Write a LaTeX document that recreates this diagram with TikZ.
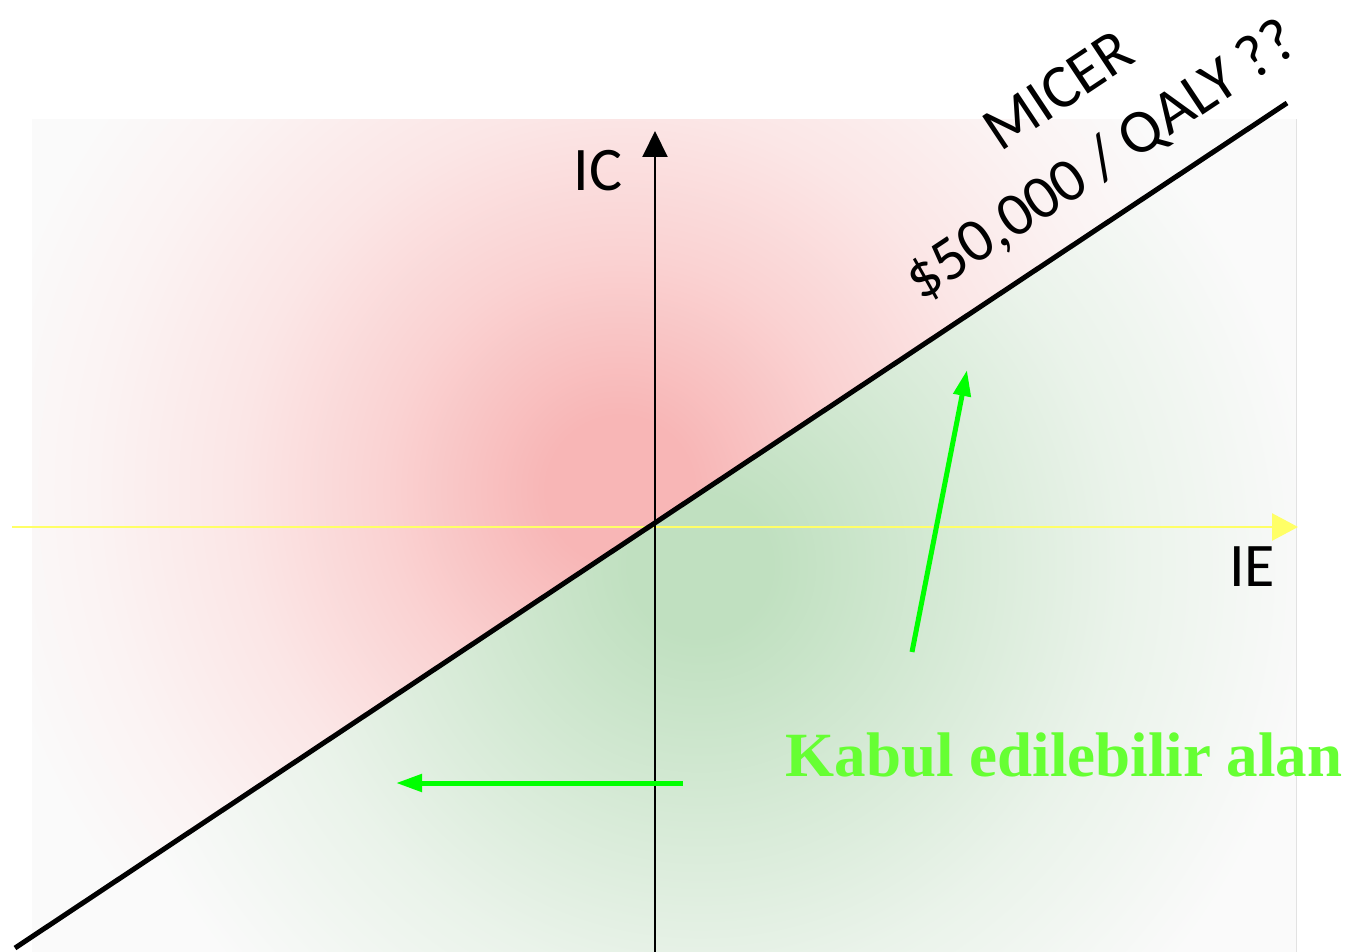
\documentclass[tikz,border=0pt]{standalone}
\usepackage{fontspec}
\setmainfont{Liberation Serif}
\newfontfamily\calib{Carlito}
\usetikzlibrary{arrows.meta}
\definecolor{bgc}{RGB}{250,250,250}
\definecolor{rc0}{RGB}{248,182,182}
\definecolor{rc1}{RGB}{250,210,210}
\definecolor{rc2}{RGB}{251,230,230}
\definecolor{rc3}{RGB}{251,243,243}
\definecolor{gc0}{RGB}{192,224,192}
\definecolor{gc1}{RGB}{214,234,214}
\definecolor{gc2}{RGB}{234,243,234}
\definecolor{yel}{RGB}{255,255,102}
\definecolor{kgreen}{RGB}{102,255,51}
\definecolor{agreen}{RGB}{0,255,0}
\pgfdeclareradialshading{redglow}{\pgfpoint{0bp}{0bp}}{color(0bp)=(rc0); color(2.3bp)=(rc0); color(7.3bp)=(rc1); color(11.9bp)=(rc2); color(16.4bp)=(rc3); color(20bp)=(bgc); color(50bp)=(bgc)}
\pgfdeclareradialshading{greenglow}{\pgfpoint{0bp}{0bp}}{color(0bp)=(gc0); color(2.2bp)=(gc0); color(7.9bp)=(gc1); color(13.1bp)=(gc2); color(19.3bp)=(bgc); color(50bp)=(bgc)}
\tikzset{
  axislabel/.style={font=\calib\fontsize{62}{62}\selectfont, inner sep=0pt},
  micer/.style={font=\calib\fontsize{62}{62}\selectfont, rotate=33.6, inner sep=0pt},
  garrow/.style={agreen, line width=5pt, -{Triangle[length=26pt,width=17pt]}},
}
\begin{document}
\begin{tikzpicture}[x=1pt,y=-1pt]
\useasboundingbox (0,0) rectangle (1355,952);
\fill[bgc] (32,120) rectangle (1296,952);
\begin{scope}
  \clip (32,120) rectangle (1296,952);
  \clip (-100,1024.4) -- (1500,-38.5) -- (-100,-38.5) -- cycle;
  \fill[shading=redglow] (620,490) circle (800);
\end{scope}
\begin{scope}
  \clip (32,120) rectangle (1296,952);
  \clip (-100,1024.4) -- (1500,-38.5) -- (1500,1100) -- (-100,1100) -- cycle;
  \fill[shading=greenglow] (700,565) circle (800);
\end{scope}
% axes
\coordinate (xs) at (12,527);
\coordinate (xe) at (1298,527);
\coordinate (ys) at (655,952);
\coordinate (ye) at (655,131);
\coordinate (ls) at (15,948);
\coordinate (le) at (1287,103);
\draw[yel, line width=2.5pt, -{Triangle[length=26pt,width=27pt]}] (xs) -- (xe);
\draw[black, line width=2pt, -{Triangle[length=26pt,width=25pt]}] (ys) -- (ye);
\draw[black, line width=5pt] (ls) -- (le);
% labels
\node[axislabel] (ic) at (598,171) {IC};
\node[axislabel] (ie) at (1252,567) {IE};
\node[micer] (micer) at (1058,90) {MICER};
\node[micer] (qaly) at (1102,161) {\$50,000 / QALY ??};
\node[font=\bfseries\fontsize{63}{63}\selectfont, text=kgreen, inner sep=0pt] (kabul) at (1064,755) {Kabul edilebilir alan};
% green arrows
\coordinate (a1s) at (912,652);
\coordinate (a1e) at (967,370);
\coordinate (a2s) at (683,783);
\coordinate (a2e) at (396,783);
\draw[garrow] (a1s) -- (a1e);
\draw[garrow] (a2s) -- (a2e);
\end{tikzpicture}
\end{document}
